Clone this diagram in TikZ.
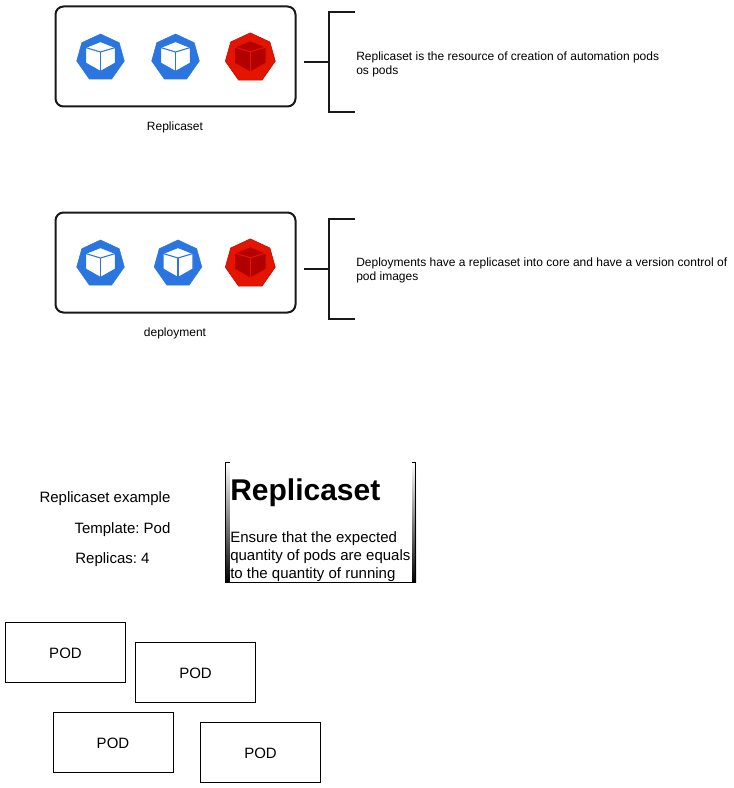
\documentclass[tikz,border=0pt]{standalone}
\usepackage{fontspec}
\setmainfont{Liberation Sans}
\usetikzlibrary{calc}
\usetikzlibrary{shadings}
\frenchspacing

\definecolor{podblue}{HTML}{2A75E0}
\definecolor{podred}{HTML}{E51400}
\definecolor{poddark}{HTML}{B20000}

\tikzset{
    groupbox/.style={draw=black!90, line width=1.5pt, rounded corners=6pt},
    bracket/.style={draw=black!90, line width=1.5pt},
    podbox/.style={draw, line width=0.6pt, minimum width=90pt, minimum height=45pt, inner sep=0pt, text height=9pt, text depth=0pt, font=\fontsize{11.25}{13}\selectfont},
    smalltext/.style={inner sep=0pt, font=\fontsize{9}{10.5}\selectfont},
    midtext/.style={inner sep=0pt, font=\fontsize{11.25}{13}\selectfont},
    % icon: hull colour, edge colour, cube colour, cube line colour
    podicon/.pic={
        \path[fill=\iconhull, draw=\iconedge, line width=0.4pt]
            (0,-23)--(18.7,-14.3)--(23.8,4)--(11.2,22)--(-11.2,22)--(-23.8,4)--(-18.7,-14.3)--cycle;
        \path[fill=\iconcube, draw=\iconline, line width=0.8pt]
            (0,-15.5)--(15,-9.5)--(15,6)--(0,14.5)--(-15,6)--(-15,-9.5)--cycle;
        \draw[\iconline, line width=0.8pt] (-15,-9.5)--(0,-5)--(15,-9.5);
        \draw[\iconline, line width=0.8pt] (0,-5)--(0,14.5);
    },
    blueicon/.style={/utils/exec={\def\iconhull{podblue}\def\iconedge{podblue}\def\iconcube{white}\def\iconline{podblue}}},
    redicon/.style={scale=1.05, /utils/exec={\def\iconhull{podred}\def\iconedge{podred!80!black}\def\iconcube{poddark}\def\iconline{podred}}},
}

\begin{document}
\begin{tikzpicture}[x=0.75pt, y=-0.75pt]
    \useasboundingbox (0,0) rectangle (733,788);

    % top group
    \draw[groupbox] (55.5,6.5) rectangle (295.5,106.5);
    \pic[blueicon] at (100.5,57) {podicon};
    \pic[blueicon] at (175.5,57) {podicon};
    \pic[redicon] at (250.3,57) {podicon};
    \node[smalltext] (replicaLabel) at (175,127) {Replicaset};

    \coordinate (stemA) at (304,62.5);
    \coordinate (midA) at (329,62.5);
    \draw[bracket] (stemA)--(midA);
    \draw[bracket] (355,12.5)--(329,12.5)--(329,112.5)--(355,112.5);
    \node[smalltext, anchor=north west, align=left] (replicaText) at (356,51.5)
        {Replicaset is the resource of creation of automation pods\\os pods};

    % second group
    \draw[groupbox] (55.5,212.5) rectangle (295.5,312.5);
    \pic[blueicon] at (100.5,263) {podicon};
    \pic[blueicon] at (178,263) {podicon};
    \pic[redicon] at (250.3,263) {podicon};
    \node[smalltext] (deployLabel) at (175,333) {deployment};

    \coordinate (stemB) at (304,268.5);
    \coordinate (midB) at (329,268.5);
    \draw[bracket] (stemB)--(midB);
    \draw[bracket] (355,218.5)--(329,218.5)--(329,318.5)--(355,318.5);
    \node[smalltext, anchor=north west, align=left] (deployText) at (356,257.5)
        {Deployments have a replicaset into core and have a version control of\\pod images};

    % example text
    \node[midtext] (exampleA) at (105,499) {Replicaset example};
    \node[midtext] (exampleB) at (122.5,529.5) {Template: Pod};
    \node[midtext] (exampleC) at (112.5,559.5) {Replicas: 4};

    % frame under the title text
    \fill[top color=white, bottom color=black] (225.5,462) rectangle (229.5,582.5);
    \fill[top color=white, bottom color=black] (412,462) rectangle (416,582.5);
    \draw[line width=0.75pt] (225.5,462.5)--(230,462.5);
    \draw[line width=0.75pt] (412,462.5)--(415.5,462.5);
    \draw[line width=0.75pt] (225.5,462)--(225.5,582.5)--(415.5,582.5)--(415.5,462);
    \node[inner sep=0pt, anchor=base west, font=\fontsize{22.5}{26}\bfseries\selectfont] (titleText) at (230,500) {Replicaset};
    \node[midtext, anchor=base west] (lineA) at (230,542) {Ensure that the expected};
    \node[midtext, anchor=base west] (lineB) at (230,560) {quantity of pods are equals};
    \node[midtext, anchor=base west] (lineC) at (230,578) {to the quantity of running};

    % pods
    \node[podbox] (podA) at (65.5,652.5) {POD};
    \node[podbox] (podB) at (195.5,672.5) {POD};
    \node[podbox] (podC) at (113,742.5) {POD};
    \node[podbox] (podD) at (260.5,752.5) {POD};
\end{tikzpicture}
\end{document}
